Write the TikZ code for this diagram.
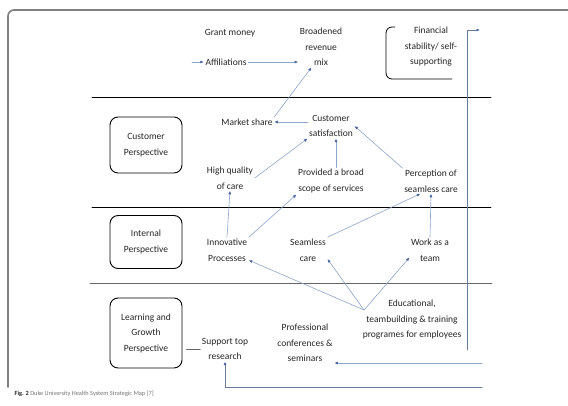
\documentclass[tikz,border=0pt]{standalone}
\usepackage{fontspec}
\setmainfont{Carlito}
\usetikzlibrary{arrows.meta}
\definecolor{linkblue}{RGB}{140,165,203}
\definecolor{tipblue}{RGB}{70,100,160}
\definecolor{railblue}{RGB}{105,125,155}
\begin{document}
\begin{tikzpicture}[x=1pt,y=-1pt,cap=round,>={Latex[length=3.5pt,width=3pt,color=tipblue]}]
	% Text in the map
	\tikzstyle{every node}=[font=\fontsize{9.5}{15.5}\selectfont,text=black!85,align=center,inner sep=1.5pt]
	\tikzstyle{persp}=[draw=black,line width=0.9pt,rounded corners=8pt,minimum width=72pt]
	\tikzstyle{link}=[->,draw=linkblue,line width=0.6pt]

	\useasboundingbox (0,0) rectangle (568,405);
	% outer frame, cut off at the right
	\draw[black!50,line width=1.6pt,rounded corners=6pt] (8,387) -- (8,10) -- (580,10);

	% dividers between the perspectives
	\draw[line width=0.9pt] (92,97) -- (491,97);
	\draw[line width=0.9pt] (92,207) -- (491,207);
	\draw[line width=0.9pt,black!60] (90,283) -- (492,283);

	% perspective boxes
	\node[persp,minimum height=56pt] (cust) at (146,145) {Customer\\Perspective};
	\node[persp,minimum height=53pt] (intern) at (146,242) {Internal\\Perspective};
	\node[persp,minimum height=70pt] (learn) at (146,333) {Learning and\\Growth\\Perspective};

	% financial row
	\node (grant) at (230,33) {Grant money};
	\node (aff) at (226,62) {Affiliations};
	\node (broad) at (321,47) {Broadened\\revenue\\mix};
	\node (fin) at (431,47) {Financial\\stability/ self-\\supporting};
	% customer row
	\node (mshare) at (247,122) {Market share};
	\node (sat) at (331,126) {Customer\\satisfaction};
	\node (hq) at (230,178) {High quality\\of care};
	\node (prov) at (331,181) {Provided a broad\\scope of services};
	\node (perc) at (431,181) {Perception of\\seamless care};
	% internal row
	\node (innov) at (227,250) {Innovative\\Processes};
	\node (seam) at (308,250) {Seamless\\care};
	\node (team) at (430,250) {Work as a\\team};
	% learning row
	\node (edu) at (412,320) {Educational,\\teambuilding \& training\\programes for employees};
	\node (prof) at (305,343) {Professional\\conferences \&\\seminars};
	\node (supp) at (225,349) {Support top\\research};

	% half open frame round the financial goal
	\draw[line width=0.8pt,rounded corners=6pt] (395,27) -- (386,27) -- (386,79) -- (452,79);

	% links between the objectives
	\coordinate (affin) at (192,62);
	\draw[link] (affin) -- (aff);
	\draw[link] (aff.east) -- (aff.east -| broad.west);
	\draw[link] (mshare.north east) -- (broad.-115);
	\draw[link] (mshare.east -| sat.west) -- (mshare.east);
	\draw[link] (hq.east) -- (sat.south west);
	\draw[link] ([xshift=5pt]prov.north) -- ([xshift=5pt]sat.south);
	\draw[link] (perc.north west) -- (sat.east);
	\draw[link] (innov.north) -- (hq.south);
	\draw[link] (innov.north east) -- (prov.south west);
	\draw[link] (seam.north east) -- (perc.-130);
	\draw[link] (team.north) -- (perc.south);
	% training feeds the internal processes
	\coordinate (hub) at ([xshift=3pt,yshift=10pt]edu.west);
	\foreach \dst/\ang in {innov/-25, seam/-25, team/-160}
		\draw[link] (hub) -- (\dst.\ang);

	% long lines on the right
	\coordinate (vbot) at (467,350);
	\coordinate (vtop) at (467,30);
	\coordinate (vend) at (480,30);
	\draw[->,draw=railblue,line width=0.7pt] (vbot) -- (vtop) -- (vend);
	\coordinate (rone) at (482,363);
	\draw[->,draw=linkblue,line width=0.7pt] (rone) -- (rone -| prof.east);
	\coordinate (rtwo) at (482,387);
	\draw[->,draw=railblue,line width=0.8pt] (rtwo) -- (rtwo -| supp.south) -- (supp.south);
	\draw[black!60,line width=0.6pt] ([xshift=4pt]learn.east |- supp.west) -- (supp.west);

	% caption
	\node[anchor=west,font=\fontsize{6.3}{8}\selectfont] (caption) at (13,394)
		{\textbf{Fig. 2}\ \textcolor{black!55}{Duke University Health System Strategic Map [7]}};
\end{tikzpicture}
\end{document}
